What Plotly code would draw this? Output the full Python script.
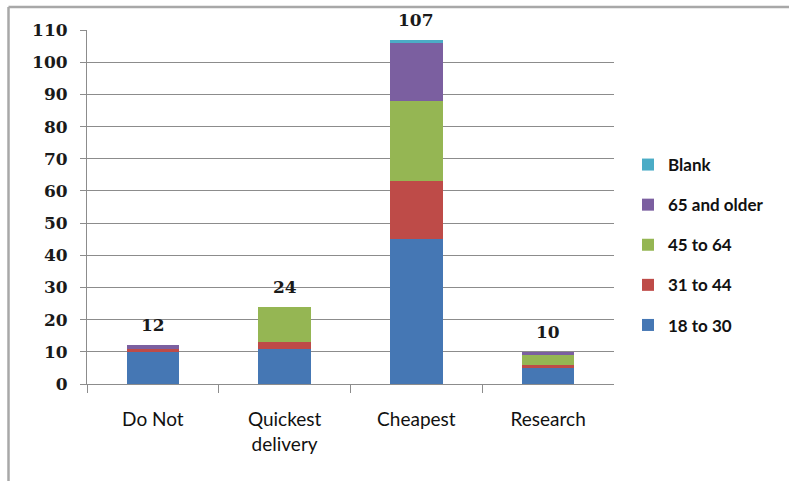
import plotly.graph_objects as go

# Survey responses by age group for each shopping choice
categories = ["Do Not", "Quickest<br>delivery", "Cheapest", "Research"]
age_18_30 = [10, 11, 45, 5]
age_31_44 = [1, 2, 18, 1]
age_45_64 = [0, 11, 25, 3]
age_65_up = [1, 0, 18, 1]
blank = [0, 0, 1, 0]

series = [
    ("18 to 30", age_18_30, "#4577B4"),
    ("31 to 44", age_31_44, "#BE4B48"),
    ("45 to 64", age_45_64, "#95B653"),
    ("65 and older", age_65_up, "#7B5FA0"),
    ("Blank", blank, "#4BACC6"),
]
totals = [sum(v) for v in zip(age_18_30, age_31_44, age_45_64, age_65_up, blank)]

W, H = 789, 481
# plot area in page pixels
X0, X1, Y0, Y1 = 87, 614, 30, 384


def fx(px):
    return px / W


def fy(py):
    return (H - py) / H


fig = go.Figure()
for i, (name, vals, color) in enumerate(series):
    fig.add_trace(go.Bar(
        x=categories, y=vals, name=name, legendgroup=name,
        legendrank=len(series) - i,
        marker=dict(color=color, line=dict(width=0)),
        width=0.4, hoverinfo="skip",
    ))

# Total labels above each stack
for cat, tot in zip(categories, totals):
    fig.add_annotation(
        x=cat, y=tot, text=f"<b>{tot}</b>", showarrow=False,
        yanchor="middle", yshift=20,
        font=dict(family="DejaVu Serif, Liberation Serif, serif", size=17, color="#1a1a1a"),
    )

# Chart-area border: left and top edges
border = dict(color="#A8A8A8", width=2.5)
fig.add_shape(type="line", xref="paper", yref="paper", layer="above",
              x0=fx(8.5), x1=fx(8.5), y0=0, y1=fy(7), line=border)
fig.add_shape(type="line", xref="paper", yref="paper", layer="above",
              x0=fx(8.5), x1=1, y0=fy(7), y1=fy(7), line=border)

fig.update_layout(
    width=W, height=H,
    margin=dict(l=0, r=0, t=0, b=0, autoexpand=False),
    barmode="stack",
    paper_bgcolor="white", plot_bgcolor="white",
    showlegend=True,
    legend=dict(
        x=fx(628), xanchor="left",
        y=fy(147), yanchor="top",
        traceorder="grouped", tracegroupgap=15,
        font=dict(family="Lato, sans-serif", size=17, color="#111111", weight="bold"),
        itemclick=False, itemdoubleclick=False,
        bgcolor="rgba(0,0,0,0)",
    ),
    font=dict(family="Lato, sans-serif", color="#111111"),
    xaxis=dict(
        domain=[fx(X0), fx(X1)],
        showgrid=False, showline=True, linecolor="#8C8C8C", linewidth=1,
        ticks="outside", tickson="boundaries", ticklen=8, tickcolor="#8C8C8C",
        ticklabelstandoff=18,
        tickfont=dict(family="Lato, sans-serif", size=19, color="#111111"),
        fixedrange=True,
    ),
    yaxis=dict(
        domain=[fy(Y1), fy(Y0)],
        range=[0, 110], dtick=10, tick0=0,
        showgrid=True, gridcolor="#8C8C8C", gridwidth=1,
        showline=True, linecolor="#8C8C8C", linewidth=1,
        ticks="outside", ticklen=6, tickcolor="#8C8C8C",
        ticklabelstandoff=9,
        tickfont=dict(family="DejaVu Serif, Liberation Serif, serif", size=17,
                      color="#1a1a1a", weight="bold"),
        zeroline=False, fixedrange=True,
    ),
)

fig.write_html("out.html", config={"displayModeBar": False})
